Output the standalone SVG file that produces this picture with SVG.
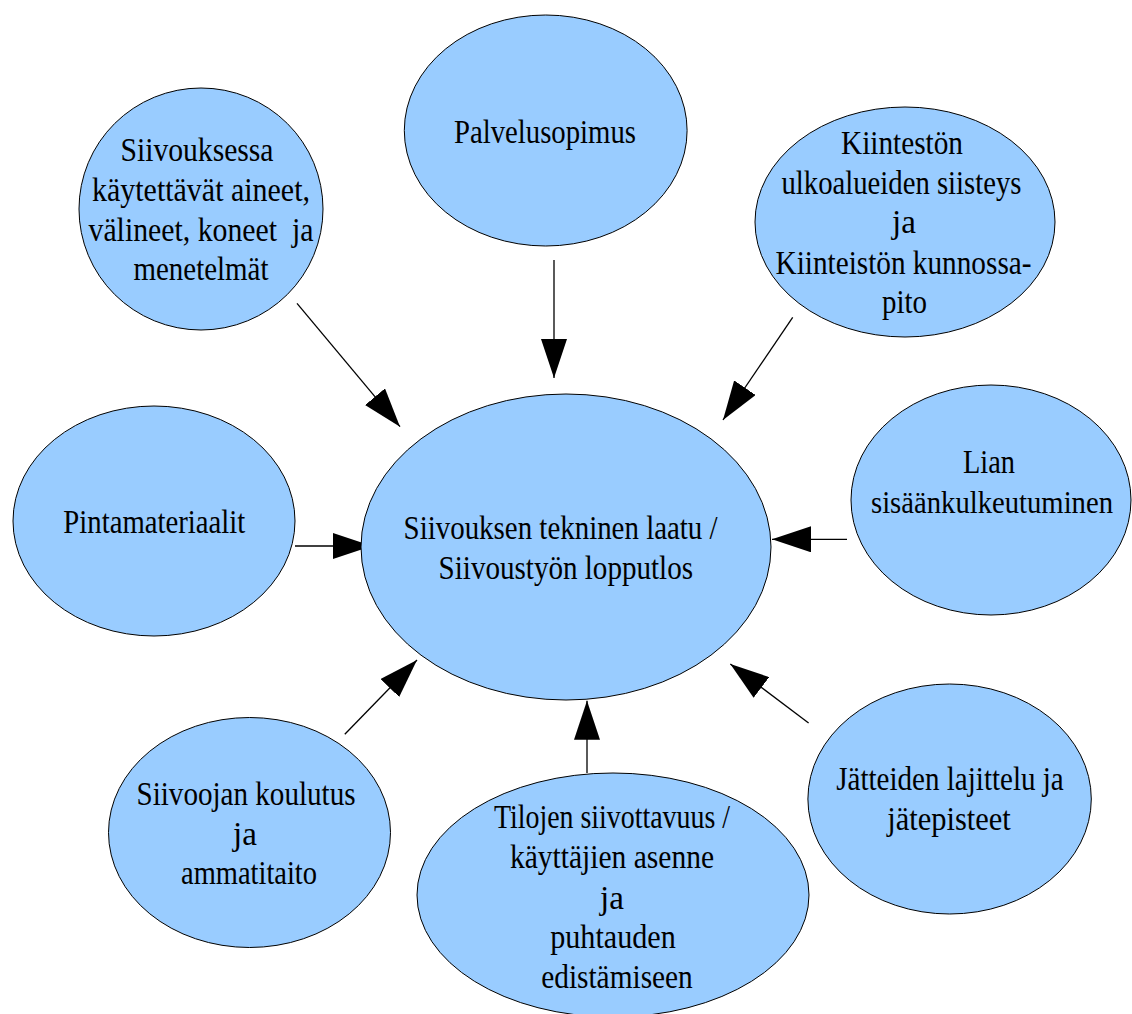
<svg xmlns="http://www.w3.org/2000/svg" width="1132" height="1014" viewBox="0 0 1132 1014">
<style>
.n{fill:#99ccff;stroke:#000;stroke-width:1}
.t{font-family:"Liberation Serif","Times New Roman",serif;font-size:33px;fill:#000;text-anchor:middle}
.c{stroke:#000;stroke-width:1.3;fill:none;marker-end:url(#ah)}
</style>
<defs>
<marker id="ah" markerUnits="userSpaceOnUse" markerWidth="39" markerHeight="26" viewBox="0 0 39 26" refX="39" refY="13" orient="auto">
<path d="M0,0 L39,13 L0,26 z" fill="#000"/>
</marker>
</defs>
<rect width="1132" height="1014" fill="#fff"/>
<g id="connectors">
<line class="c" x1="554" y1="260" x2="554" y2="378"/>
<line class="c" x1="297" y1="303.3" x2="400" y2="426.7"/>
<line class="c" x1="792.7" y1="317.3" x2="723" y2="420"/>
<line class="c" x1="295" y1="546" x2="372" y2="546"/>
<line class="c" x1="847" y1="539.3" x2="772" y2="539.3"/>
<line class="c" x1="808.6" y1="723" x2="730.3" y2="664"/>
<line class="c" x1="344.8" y1="734.3" x2="417" y2="660"/>
<line class="c" x1="587" y1="773" x2="587" y2="700.7"/>
</g>
<g id="palvelusopimus">
<ellipse class="n" cx="545.7" cy="130.5" rx="141.4" ry="115.5"/>
<text class="t" x="545" y="143" textLength="182" lengthAdjust="spacingAndGlyphs">Palvelusopimus</text>
</g>
<g id="siivouksessa">
<ellipse class="n" cx="201" cy="209" rx="122" ry="121"/>
<text class="t" x="197" y="161" textLength="153" lengthAdjust="spacingAndGlyphs">Siivouksessa</text>
<text class="t" x="201" y="201" textLength="218" lengthAdjust="spacingAndGlyphs">käytettävät aineet,</text>
<text class="t" x="201" y="241" textLength="225" lengthAdjust="spacingAndGlyphs" style="white-space:pre">välineet, koneet  ja</text>
<text class="t" x="201" y="280" textLength="135" lengthAdjust="spacingAndGlyphs">menetelmät</text>
</g>
<g id="kiintesto">
<ellipse class="n" cx="905" cy="222" rx="150" ry="115"/>
<text class="t" x="902" y="154" textLength="122" lengthAdjust="spacingAndGlyphs">Kiintestön</text>
<text class="t" x="901.5" y="194" textLength="240" lengthAdjust="spacingAndGlyphs">ulkoalueiden siisteys</text>
<text class="t" x="904" y="233">ja</text>
<text class="t" x="903.5" y="274" textLength="256" lengthAdjust="spacingAndGlyphs">Kiinteistön kunnossa-</text>
<text class="t" x="904.5" y="313" textLength="45" lengthAdjust="spacingAndGlyphs">pito</text>
</g>
<g id="pintamateriaalit">
<ellipse class="n" cx="154" cy="521" rx="141" ry="115"/>
<text class="t" x="154.3" y="533" textLength="182" lengthAdjust="spacingAndGlyphs">Pintamateriaalit</text>
</g>
<g id="center">
<ellipse class="n" cx="566" cy="547" rx="205" ry="153"/>
<text class="t" x="560.6" y="539" textLength="314" lengthAdjust="spacingAndGlyphs">Siivouksen tekninen laatu /</text>
<text class="t" x="565.8" y="579" textLength="254.5" lengthAdjust="spacingAndGlyphs">Siivoustyön lopputlos</text>
</g>
<g id="lian">
<ellipse class="n" cx="991" cy="500" rx="140" ry="115"/>
<text class="t" x="989" y="473" textLength="52" lengthAdjust="spacingAndGlyphs">Lian</text>
<text class="t" x="992" y="513" textLength="242" lengthAdjust="spacingAndGlyphs" style="font-size:31px">sisäänkulkeutuminen</text>
</g>
<g id="siivoojan">
<ellipse class="n" cx="249.5" cy="832.5" rx="141" ry="115"/>
<text class="t" x="246" y="805" textLength="219" lengthAdjust="spacingAndGlyphs">Siivoojan koulutus</text>
<text class="t" x="245" y="845">ja</text>
<text class="t" x="249" y="884" textLength="136" lengthAdjust="spacingAndGlyphs">ammatitaito</text>
</g>
<g id="tilojen">
<ellipse class="n" cx="613" cy="895" rx="196" ry="122"/>
<text class="t" x="612" y="827.5" textLength="236" lengthAdjust="spacingAndGlyphs">Tilojen siivottavuus /</text>
<text class="t" x="612" y="868" textLength="204" lengthAdjust="spacingAndGlyphs">käyttäjien asenne</text>
<text class="t" x="612" y="909">ja</text>
<text class="t" x="613" y="948" textLength="125.6" lengthAdjust="spacingAndGlyphs">puhtauden</text>
<text class="t" x="617" y="988" textLength="151.6" lengthAdjust="spacingAndGlyphs">edistämiseen</text>
</g>
<g id="jatteiden">
<ellipse class="n" cx="949.6" cy="799" rx="141.7" ry="115"/>
<text class="t" x="950" y="790" textLength="227.5" lengthAdjust="spacingAndGlyphs">Jätteiden lajittelu ja</text>
<text class="t" x="949" y="830" textLength="123.5" lengthAdjust="spacingAndGlyphs">jätepisteet</text>
</g>
</svg>
